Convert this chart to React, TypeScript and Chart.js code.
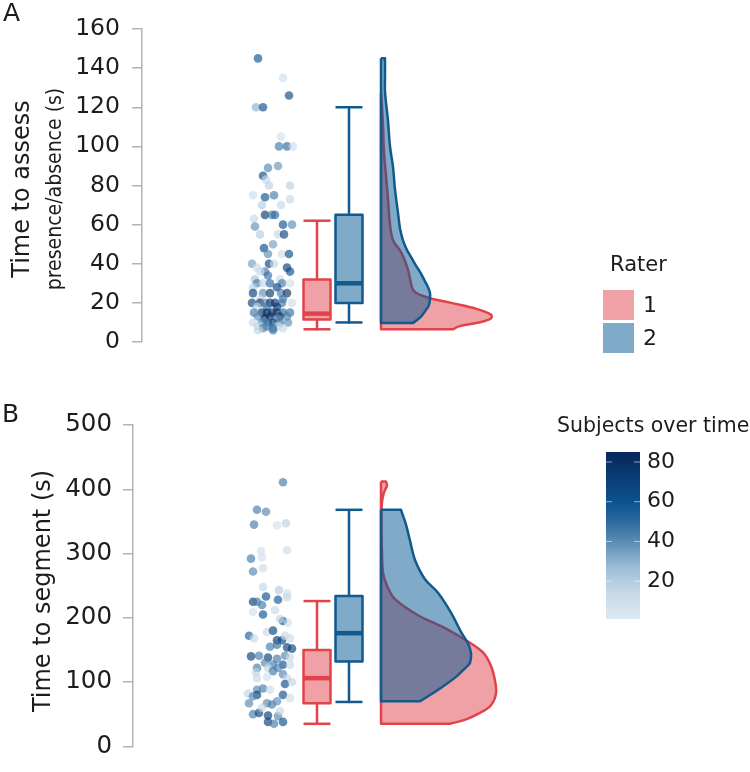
import { useEffect, useRef } from "react";
import { Chart, registerables } from "chart.js";

Chart.register(...registerables);

const FONT = "'DejaVu Sans', 'Noto Sans', sans-serif";
const INK = "#1c1c1c";
const AXIS_GREY = "#b3b3b3";

const RED_LINE = "#e2434b";
const RED_FILL = "rgba(226, 67, 75, 0.5)";
const BLUE_LINE = "#115a8d";
const BLUE_FILL = "rgba(0, 85, 145, 0.5)";

const RATERS = ["1", "2"];
const SUBJECT_TICKS = [20, 40, 60, 80];
const SUBJECT_RANGE = [1, 85];

// ---- Panel A: time to assess presence/absence (s) ----
const A_TICKS_MAX = 160;
const A_TICK_STEP = 20;
const A_TIMES = [
  145, 135, 126, 120, 120, 105, 100, 100, 100, 89, 90, 85, 83, 80, 80, 75, 75, 74, 70, 70,
  73, 65, 65, 65, 63, 59, 60, 60, 55, 55, 55, 50, 48, 45, 45, 45,
  40, 40, 40, 38, 38, 36, 36, 36, 34, 32, 32, 30, 30, 30, 30, 30, 28, 28,
  25, 25, 25, 25, 25, 22, 22, 20, 20, 20, 20, 20, 20, 20, 18, 18, 18,
  15, 15, 15, 15, 15, 15, 15, 13, 13, 13, 13, 12, 12, 10, 10, 10, 10, 10, 10,
  8, 8, 8, 7, 7, 7, 6, 6,
];
const A_JITTER = [
  -0.56, 0.44, 0.68, -0.64, -0.36, 0.36, 0.28, 0.6, 0.84, -0.16, 0.24, -0.36, -0.24, -0.12, 0.72, -0.76, 0.08, -0.28, -0.4, 0.36,
  0.72, -0.28, 0, 0.12, -0.72, -0.68, 0.44, 0.8, -0.48, 0.24, 0.48, 0.04, -0.32, -0.16, 0.4, 0.68,
  -0.8, -0.12, 0.08, 0.6, -0.6, -0.28, 0.72, -0.48, -0.16, -0.68, 0.32, -0.6, -0.36, -0.08, 0.4, 0.72, -0.76, 0.2,
  -0.76, -0.36, -0.08, 0.36, 0.6, -0.48, 0.44, -0.8, -0.48, -0.28, -0.08, 0.12, 0.4, 0.8, -0.6, -0.2, 0.2,
  -0.72, -0.4, -0.2, 0, 0.2, 0.44, 0.72, -0.56, -0.08, 0.32, 0.6, -0.28, 0.2, -0.76, -0.4, -0.16, 0.04, 0.32, 0.64,
  -0.56, -0.2, 0.24, -0.36, 0.04, 0.44, -0.56, 0.04,
];
const A_SUBJECT = [
  60, 10, 65, 30, 62, 8, 45, 50, 10, 42, 38, 65, 15, 18, 18, 12, 45, 60, 20, 15,
  14, 75, 45, 50, 14, 40, 60, 40, 20, 15, 70, 35, 65, 40, 12, 65,
  35, 70, 15, 72, 12, 45, 62, 14, 48, 25, 12, 45, 14, 50, 45, 10, 18, 70,
  72, 40, 75, 45, 78, 14, 45, 70, 78, 40, 80, 76, 45, 12, 16, 45, 74,
  45, 80, 82, 76, 84, 50, 48, 40, 78, 72, 42, 80, 40, 14, 42, 45, 72, 45, 40,
  16, 45, 14, 42, 48, 14, 16, 45,
];
// five-number summaries: min, q1, median, q3, max
const A_BOX_RATER1 = [6.5, 11.5, 14.5, 32, 62];
const A_BOX_RATER2 = [10, 20, 30, 65, 120];
// half-violin outlines: time (s) and density width
const A_VIOLIN1_T = [127, 120, 110, 97, 85, 73, 60, 52, 46, 40, 35, 30, 26, 23, 20, 17, 14, 12, 10, 8, 6.5];
const A_VIOLIN1_D = [0, 1, 2, 3, 5, 7, 9, 12, 20, 25, 28, 30, 33, 45, 70, 95, 110, 110, 98, 78, 72];
const A_VIOLIN2_T = [145, 135, 128, 113, 100, 89.5, 78, 66, 58, 52, 47, 43.5, 39, 35, 31, 28, 25, 22.5, 19, 16.4, 13, 9.7];
const A_VIOLIN2_D = [4, 4, 4, 7, 9, 12, 14, 17, 19, 22, 26, 30, 35, 40, 44, 47, 49, 49, 48, 45, 40, 32];

// ---- Panel B: time to segment (s) ----
const B_TICKS_MAX = 500;
const B_TICK_STEP = 100;
const B_TIMES = [
  411, 368, 365, 345, 344, 347, 304, 305, 292, 294, 272, 277, 248, 243, 238, 233, 228, 232, 225, 225,
  220, 209, 205, 212, 195, 198, 192, 178, 180, 172, 168, 165, 165, 172, 168, 155, 158, 154, 152, 140,
  141, 141, 138, 138, 136, 130, 127, 127, 127, 122, 122, 122, 115, 117, 108, 112, 106, 106, 90, 97,
  88, 82, 88, 80, 80, 78, 67, 67, 65, 70, 50, 52, 48, 47, 38, 35, 38, 60, 55, 75, 100,
];
const B_JITTER = [
  0.44, -0.6, -0.24, -0.72, 0.2, 0.56, -0.44, 0.6, -0.84, -0.4, -0.76, -0.36, -0.36, 0.28, 0.6, -0.24, 0.24, 0.6, -0.76, -0.6,
  -0.4, -0.76, -0.36, 0.12, 0.44, 0.32, 0.64, -0.2, 0.04, -0.92, -0.72, 0.2, 0.4, 0.52, 0.72, -0.08, 0.2, 0.6, 0.8, -0.84,
  -0.52, 0.52, 0.72, -0.16, 0.2, -0.28, 0.04, 0.44, 0.72, -0.6, -0.16, 0.24, -0.64, 0.04, -0.2, 0.44, 0.6, -0.6, -0.36, 0.52,
  -0.6, -0.96, -0.08, -0.6, 0.44, -0.76, -0.2, -0.92, 0, 0.2, -0.76, -0.52, -0.16, 0.24, -0.16, 0.08, 0.44, -0.4, 0.32, 0.72, 0.8,
];
const B_SUBJECT = [
  45, 45, 42, 45, 8, 18, 8, 12, 45, 8, 42, 12, 16, 20, 10, 62, 58, 16, 70, 45,
  45, 8, 60, 14, 62, 16, 10, 14, 68, 55, 14, 75, 68, 14, 12, 45, 48, 72, 70, 72,
  45, 42, 14, 72, 45, 42, 45, 62, 14, 45, 16, 42, 16, 45, 8, 42, 14, 14, 45, 62,
  42, 16, 12, 70, 62, 42, 42, 42, 45, 40, 45, 70, 75, 42, 72, 45, 65, 14, 14, 12, 16,
];
const B_BOX_RATER1 = [35, 67, 106, 150, 226];
const B_BOX_RATER2 = [69, 132, 176, 234, 368];
const B_VIOLIN1_T = [412, 406, 395, 380, 360, 330, 300, 270, 250, 229, 204, 184, 163, 146, 125, 102, 82, 64, 52, 42, 35];
const B_VIOLIN1_D = [5, 6, 3, 1, 0.5, 0.5, 1, 2, 6, 14, 37, 64, 87, 102, 110, 114, 115, 110, 99, 85, 69];
const B_VIOLIN2_T = [368, 345, 320, 290, 260, 239, 208, 178, 160, 145, 130, 123, 108, 90, 70];
const B_VIOLIN2_D = [20, 25, 29, 34, 44, 57, 70, 80, 87, 90, 89, 85, 75, 59, 39];

// ---- horizontal placement on the hidden x scale ----
const STRIP_X = 1.3;
const STRIP_HALF = 0.25;
const BOX_X = [1.75, 2.07];
const BOX_HALF = 0.135;
const VIOLIN_X = 2.39;
const DENSITY_SCALE = 0.01;

// colour ramp for subject index (light → dark blue)
const RAMP: [number, number, number, number][] = [
  [0.0, 222, 233, 242],
  [0.15, 200, 218, 233],
  [0.3, 160, 191, 215],
  [0.45, 98, 144, 181],
  [0.58, 42, 106, 160],
  [0.7, 12, 82, 144],
  [0.85, 8, 60, 118],
  [1.0, 8, 38, 88],
];

function rampRGB(t: number): [number, number, number] {
  const c = Math.max(0, Math.min(1, t));
  for (let i = 1; i < RAMP.length; i++) {
    if (c <= RAMP[i][0]) {
      const a = RAMP[i - 1];
      const b = RAMP[i];
      const f = (c - a[0]) / (b[0] - a[0]);
      return [a[1] + (b[1] - a[1]) * f, a[2] + (b[2] - a[2]) * f, a[3] + (b[3] - a[3]) * f];
    }
  }
  const l = RAMP[RAMP.length - 1];
  return [l[1], l[2], l[3]];
}

function subjectColor(s: number, alpha: number) {
  const t = (s - SUBJECT_RANGE[0]) / (SUBJECT_RANGE[1] - SUBJECT_RANGE[0]);
  const [r, g, b] = rampRGB(t);
  return `rgba(${Math.round(r)}, ${Math.round(g)}, ${Math.round(b)}, ${alpha})`;
}

type Pt = { x: number; y: number };

function shape(data: Pt[], line: string, fill: string | false, width: number, tension = 0) {
  return {
    type: "line" as const,
    data,
    borderColor: line,
    backgroundColor: fill || "transparent",
    borderWidth: width,
    fill: fill ? "shape" : false,
    pointRadius: 0,
    tension,
    clip: false,
    borderJoinStyle: "round" as const,
  };
}

function boxDatasets(stats: number[], cx: number, line: string, fill: string) {
  const [mn, q1, md, q3, mx] = stats;
  const l = cx - BOX_HALF;
  const r = cx + BOX_HALF;
  return [
    shape([{ x: cx, y: q3 }, { x: cx, y: mx }], line, false, 2.5),
    shape([{ x: cx, y: q1 }, { x: cx, y: mn }], line, false, 2.5),
    shape([{ x: l, y: mx }, { x: r, y: mx }], line, false, 2.5),
    shape([{ x: l, y: mn }, { x: r, y: mn }], line, false, 2.5),
    shape(
      [{ x: l, y: q1 }, { x: r, y: q1 }, { x: r, y: q3 }, { x: l, y: q3 }, { x: l, y: q1 }],
      line,
      fill,
      2.5
    ),
    shape([{ x: l, y: md }, { x: r, y: md }], line, false, 4.5),
  ];
}

// Closed half-violin: the density curve is smoothed by the line tension,
// repeated corner vertices keep the flat ends and the baseline straight.
function violinDataset(ts: number[], ds: number[], line: string, fill: string) {
  const n = ts.length;
  const topBase = { x: VIOLIN_X, y: ts[0] };
  const botBase = { x: VIOLIN_X, y: ts[n - 1] };
  const curve = ts.map((t, i) => ({ x: VIOLIN_X + ds[i] * DENSITY_SCALE, y: t }));
  const pts: Pt[] = [topBase, topBase, curve[0], ...curve, curve[n - 1], botBase, botBase, topBase];
  return shape(pts, line, fill, 2.5, 0.35);
}

function rotatedText(ctx: CanvasRenderingContext2D, text: string, x: number, yc: number, size: number, squeeze = 1) {
  ctx.save();
  ctx.translate(x, yc);
  ctx.rotate(-Math.PI / 2);
  ctx.scale(squeeze, 1);
  ctx.font = `${size}px ${FONT}`;
  ctx.fillStyle = INK;
  ctx.textAlign = "center";
  ctx.textBaseline = "alphabetic";
  ctx.fillText(text, 0, 0);
  ctx.restore();
}

type PanelSpec = {
  yMax: number;
  yStep: number;
  axisWidth: number;
  padTop: number;
  padBottom: number;
  xMin: number;
  tickSize: number;
  tickPad: number;
  times: number[];
  jitter: number[];
  subject: number[];
  boxes: number[][];
  violins: [number[], number[]][];
  extras: (ctx: CanvasRenderingContext2D, chart: Chart) => void;
};

function buildChart(canvas: HTMLCanvasElement, spec: PanelSpec) {
  const layers: any[] = [];
  layers.push({
    type: "scatter" as const,
    data: spec.times.map((t, i) => ({ x: STRIP_X + spec.jitter[i] * STRIP_HALF, y: t })),
    pointRadius: 4.3,
    pointBorderWidth: 0,
    pointBackgroundColor: spec.subject.map((s) => subjectColor(s, 0.65)),
    showLine: false,
    clip: false,
  });
  layers.push(...boxDatasets(spec.boxes[0], BOX_X[0], RED_LINE, RED_FILL));
  layers.push(...boxDatasets(spec.boxes[1], BOX_X[1], BLUE_LINE, BLUE_FILL));
  layers.push(violinDataset(spec.violins[0][0], spec.violins[0][1], RED_LINE, RED_FILL));
  layers.push(violinDataset(spec.violins[1][0], spec.violins[1][1], BLUE_LINE, BLUE_FILL));
  // first in the list is painted first
  layers.forEach((d, i) => (d.order = 1000 - i));

  return new Chart(canvas, {
    type: "scatter",
    data: { datasets: layers },
    options: {
      responsive: false,
      animation: false,
      devicePixelRatio: 1,
      events: [],
      layout: { padding: { left: 0, right: 208, top: spec.padTop, bottom: spec.padBottom } },
      scales: {
        x: { type: "linear", display: false, min: spec.xMin, max: 4 },
        y: {
          type: "linear",
          min: 0,
          max: spec.yMax,
          afterFit: (s: any) => {
            s.width = spec.axisWidth;
          },
          ticks: {
            stepSize: spec.yStep,
            color: INK,
            font: { family: FONT, size: spec.tickSize },
            padding: spec.tickPad,
          },
          grid: { drawOnChartArea: false, drawTicks: true, tickLength: 10, color: AXIS_GREY, lineWidth: 1.5 },
          border: { display: true, color: AXIS_GREY, width: 1.5 },
        },
      },
      plugins: { legend: { display: false }, tooltip: { enabled: false } },
    },
    plugins: [
      {
        id: "panelText",
        afterDraw(chart: Chart) {
          spec.extras(chart.ctx, chart);
        },
      },
    ],
  } as any);
}

function drawPanelA(ctx: CanvasRenderingContext2D) {
  ctx.save();
  ctx.fillStyle = INK;
  ctx.font = `25px ${FONT}`;
  ctx.textBaseline = "alphabetic";
  ctx.textAlign = "left";
  ctx.fillText("A", 3, 21);
  rotatedText(ctx, "Time to assess", 29, 189, 24);
  rotatedText(ctx, "presence/absence (s)", 61, 189, 21, 0.9);

  // rater legend
  ctx.font = `21px ${FONT}`;
  ctx.fillText("Rater", 610, 271);
  const fills = [RED_FILL, BLUE_FILL];
  RATERS.forEach((r, i) => {
    const top = 290 + i * 33;
    ctx.fillStyle = fills[i];
    ctx.fillRect(603, top, 31, 30);
    ctx.fillStyle = INK;
    ctx.font = `22px ${FONT}`;
    ctx.textBaseline = "middle";
    ctx.fillText(r, 643, top + 16);
    ctx.textBaseline = "alphabetic";
  });
  ctx.restore();
}

function drawPanelB(ctx: CanvasRenderingContext2D) {
  ctx.save();
  ctx.fillStyle = INK;
  ctx.font = `25px ${FONT}`;
  ctx.textBaseline = "alphabetic";
  ctx.textAlign = "left";
  ctx.fillText("B", 2, 42);
  rotatedText(ctx, "Time to segment (s)", 50, 211, 24);

  // colour bar for subject order
  ctx.font = `20.5px ${FONT}`;
  ctx.fillText("Subjects over time", 557, 52);
  const left = 606;
  const right = 640;
  const top = 72;
  const bottom = 239;
  const grad = ctx.createLinearGradient(0, bottom, 0, top);
  for (let i = 0; i <= 20; i++) {
    const [r, g, b] = rampRGB(i / 20);
    grad.addColorStop(i / 20, `rgb(${Math.round(r)}, ${Math.round(g)}, ${Math.round(b)})`);
  }
  ctx.fillStyle = grad;
  ctx.fillRect(left, top, right - left, bottom - top);
  const [lo, hi] = SUBJECT_RANGE;
  ctx.font = `22px ${FONT}`;
  ctx.textBaseline = "middle";
  SUBJECT_TICKS.forEach((v) => {
    const y = bottom - ((v - lo) / (hi - lo)) * (bottom - top);
    ctx.strokeStyle = "rgba(255, 255, 255, 0.55)";
    ctx.lineWidth = 1;
    ctx.beginPath();
    ctx.moveTo(left, y);
    ctx.lineTo(left + 6, y);
    ctx.moveTo(right - 6, y);
    ctx.lineTo(right, y);
    ctx.stroke();
    ctx.fillStyle = INK;
    ctx.fillText(String(v), 647, y);
  });
  ctx.restore();
}

export default function App() {
  const refA = useRef<HTMLCanvasElement>(null);
  const refB = useRef<HTMLCanvasElement>(null);

  useEffect(() => {
    if (!refA.current || !refB.current) return;
    const a = buildChart(refA.current, {
      yMax: A_TICKS_MAX,
      yStep: A_TICK_STEP,
      axisWidth: 142,
      padTop: 29,
      padBottom: 38,
      xMin: 0,
      tickSize: 23.5,
      tickPad: 12,
      times: A_TIMES,
      jitter: A_JITTER,
      subject: A_SUBJECT,
      boxes: [A_BOX_RATER1, A_BOX_RATER2],
      violins: [
        [A_VIOLIN1_T, A_VIOLIN1_D],
        [A_VIOLIN2_T, A_VIOLIN2_D],
      ],
      extras: drawPanelA,
    });
    const b = buildChart(refB.current, {
      yMax: B_TICKS_MAX,
      yStep: B_TICK_STEP,
      axisWidth: 133,
      padTop: 45,
      padBottom: 18,
      xMin: -0.09,
      tickSize: 24.5,
      tickPad: 11,
      times: B_TIMES,
      jitter: B_JITTER,
      subject: B_SUBJECT,
      boxes: [B_BOX_RATER1, B_BOX_RATER2],
      violins: [
        [B_VIOLIN1_T, B_VIOLIN1_D],
        [B_VIOLIN2_T, B_VIOLIN2_D],
      ],
      extras: drawPanelB,
    });
    return () => {
      a.destroy();
      b.destroy();
    };
  }, []);

  return (
    <div style={{ position: "absolute", left: 0, top: 0, width: 750, height: 772, background: "#fff", overflow: "hidden" }}>
      <canvas ref={refA} width={750} height={380} style={{ position: "absolute", left: 0, top: 0, width: 750, height: 380 }} />
      <canvas ref={refB} width={750} height={392} style={{ position: "absolute", left: 0, top: 380, width: 750, height: 392 }} />
    </div>
  );
}
